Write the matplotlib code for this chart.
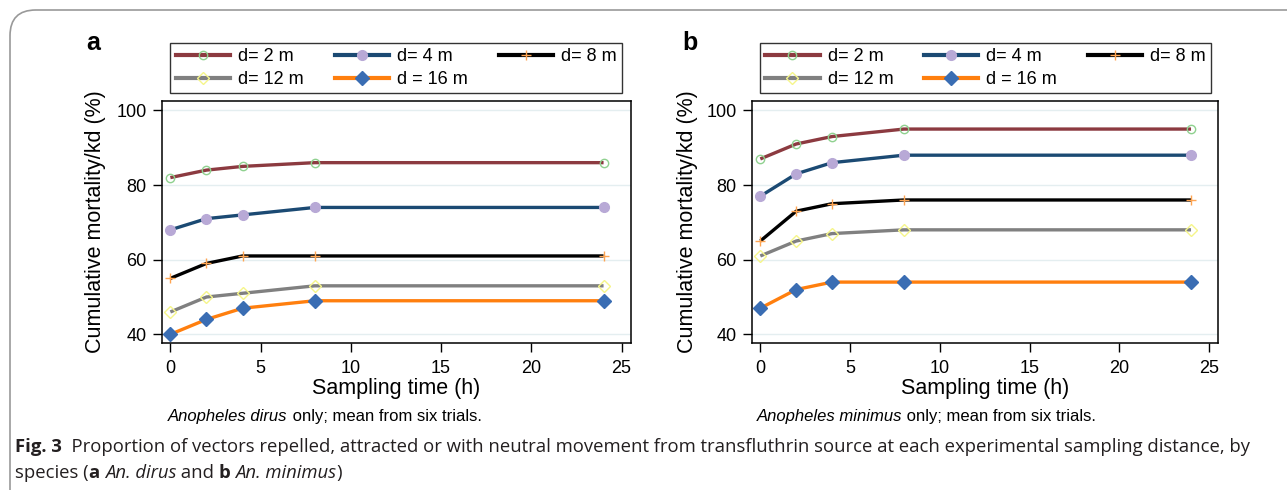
import matplotlib
matplotlib.use("Agg")
import matplotlib.pyplot as plt
from matplotlib.lines import Line2D
from matplotlib.patches import FancyBboxPatch

plt.rcParams['font.family'] = ['Liberation Sans', 'DejaVu Sans']

# ---------------- data ----------------
times = [0, 2, 4, 8, 24]
labels = ["d= 2 m", "d= 4 m", "d= 8 m", "d= 12 m", "d = 16 m"]

dirus_d2 = [82, 84, 85, 86, 86]
dirus_d4 = [68, 71, 72, 74, 74]
dirus_d8 = [55, 59, 61, 61, 61]
dirus_d12 = [46, 50, 51, 53, 53]
dirus_d16 = [40, 44, 47, 49, 49]

minimus_d2 = [87, 91, 93, 95, 95]
minimus_d4 = [77, 83, 86, 88, 88]
minimus_d8 = [65, 73, 75, 76, 76]
minimus_d12 = [61, 65, 67, 68, 68]
minimus_d16 = [47, 52, 54, 54, 54]

xticks = [0, 5, 10, 15, 20, 25]
yticks = [40, 60, 80, 100]

# ---------------- styles ----------------
styles = [
    dict(color="#8C3A40", marker="o", mfc="none", mec="#8FD18F", ms=6, mew=1.0),
    dict(color="#1B4A73", marker="o", mfc="#B8A9D6", mec="#B8A9D6", ms=7, mew=1.0),
    dict(color="#000000", marker="+", mfc="none", mec="#FFA552", ms=7, mew=1.0),
    dict(color="#808080", marker="D", mfc="none", mec="#F5F58A", ms=6.5, mew=1.0),
    dict(color="#FF7F0E", marker="D", mfc="#3A6DB3", mec="#3A6DB3", ms=7, mew=1.0),
]

W, H = 1287, 490
fig = plt.figure(figsize=(W / 100, H / 100), dpi=100)
fig.patch.set_facecolor("white")


def fx(px):
    return px / W


def fy(py):
    return 1 - py / H


def place_parts(parts, x, y, fontsize, family=None, color="black"):
    fig.canvas.draw()
    r = fig.canvas.get_renderer()
    cur = x
    for txt, kw in parts:
        t = fig.text(cur, y, txt, fontsize=fontsize, ha="left", va="center",
                     color=color, **({"family": family} if family else {}), **kw)
        bb = t.get_window_extent(renderer=r)
        cur += bb.width / W


def make_panel(left, right, series, letter, letter_x, ylab_x, note_parts, note_x,
               legend_box):
    top, bottom = 100.7, 343.3
    ax = fig.add_axes([fx(left), fy(bottom), fx(right - left), (bottom - top) / H])
    for vals, st in zip(series, styles):
        ax.plot(times, vals, lw=2.4, solid_capstyle="butt", zorder=3, **st)
    ax.set_xlim(-0.48, 25.52)
    ax.set_ylim(37.6, 102.6)
    ax.set_xticks(xticks)
    ax.set_yticks(yticks)
    ax.tick_params(labelsize=13, length=6.5, width=1, color="black")
    ax.tick_params(axis="x", pad=5.5)
    ax.tick_params(axis="y", pad=4.5)
    for y in yticks:
        ax.axhline(y, color="#E4EEF0", lw=1, zorder=1)
    for s in ax.spines.values():
        s.set_linewidth(1.1)
    ax.set_xlabel("Sampling time (h)", fontsize=15.5, va="center")
    ax.xaxis.set_label_coords(0.5, (bottom - 388) / (bottom - top))
    ax.set_ylabel("Cumulative mortality/kd (%)", fontsize=15.5, va="center")
    ax.yaxis.set_label_coords((ylab_x - left) / (right - left), 0.5)

    # legend
    handles = [Line2D([], [], lw=3, **st) for st in styles]
    order = [0, 3, 1, 4, 2]
    lx0, ly0, lx1, ly1 = legend_box
    leg = fig.legend([handles[i] for i in order], [labels[i] for i in order],
                     ncol=3, loc="center",
                     bbox_to_anchor=(fx(lx0), fy(ly1), fx(lx1 - lx0), (ly1 - ly0) / H),
                     mode="expand", fontsize=13, handlelength=3.0, handletextpad=0.45,
                     columnspacing=1.4, labelspacing=0.32, borderpad=0.3,
                     fancybox=False, frameon=True, edgecolor="black",
                     borderaxespad=0)
    leg.get_frame().set_linewidth(1.0)

    fig.text(fx(letter_x), fy(43), letter, fontsize=18, fontweight="bold",
             ha="center", va="center")
    place_parts(note_parts, fx(note_x), fy(416.5), fontsize=12)
    return ax


make_panel(161.7, 631,
           [dirus_d2, dirus_d4, dirus_d8, dirus_d12, dirus_d16], "a", 93, 96,
           [("Anopheles dirus", dict(style="italic")),
            (" only; mean from six trials.", {})], 168,
           (170.3, 40.7, 622.3, 95.3))
make_panel(751.7, 1218.3,
           [minimus_d2, minimus_d4, minimus_d8, minimus_d12, minimus_d16], "b", 690, 688,
           [("Anopheles minimus", dict(style="italic")),
            (" only; mean from six trials.", {})], 757,
           (760, 40.7, 1211, 95.3))

# Figure caption
cap_font = ["Open Sans", "DejaVu Sans"]
place_parts([("Fig. 3", dict(fontweight="bold")),
             ("  Proportion of vectors repelled, attracted or with neutral movement from transfluthrin source at each experimental sampling distance, by", {})],
            fx(15), fy(447), fontsize=13.3, family=cap_font, color="#231F20")
place_parts([("species (", {}), ("a", dict(fontweight="bold")), (" ", {}),
             ("An. dirus", dict(style="italic")), (" and ", {}),
             ("b", dict(fontweight="bold")), (" ", {}),
             ("An. minimus", dict(style="italic")), (")", {})],
            fx(15), fy(473), fontsize=13.3, family=cap_font, color="#231F20")

# outer rounded border (top and left visible)
box = FancyBboxPatch((fx(10), fy(520)), fx(1400), (520 - 10) / H,
                     boxstyle="round,pad=0,rounding_size=0.02",
                     transform=fig.transFigure, fill=False, edgecolor="#999999",
                     lw=1.2, clip_on=False, mutation_aspect=W / H)
fig.add_artist(box)

fig.savefig("out.png", dpi=100)
